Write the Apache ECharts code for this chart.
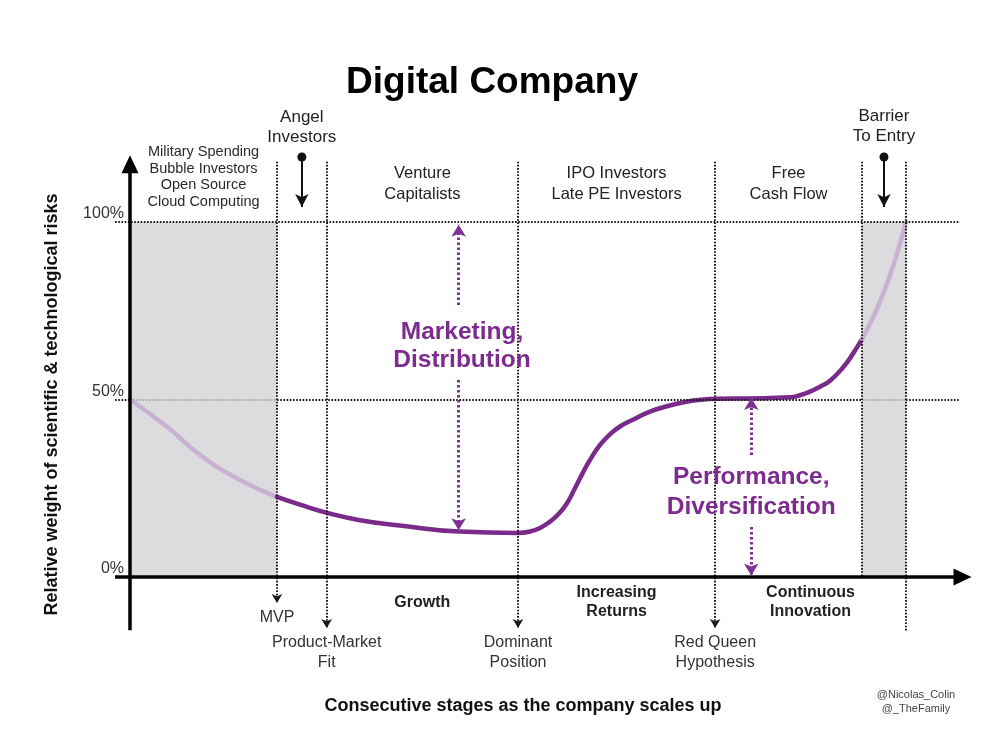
<!DOCTYPE html>
<html><head><meta charset="utf-8">
<script src="https://cdn.jsdelivr.net/npm/echarts@6/dist/echarts.min.js"></script>
<style>html,body{margin:0;padding:0;background:#fff}#c{width:1000px;height:750px}</style>
</head><body><div id="c"></div>
<script>
// ---- data ----
const riskX = [0, 4.46, 8.43, 13.25, 17.71, 20.48, 23.86, 27.71, 32.53, 39.64, 46.75, 48.19, 49.40, 50.60, 51.57, 52.65, 53.61, 54.46, 55.42, 56.63, 57.83, 59.04, 60.84, 62.65, 64.70, 66.87, 68.67, 70.72, 74.70, 79.52, 80.72, 81.93, 83.13, 84.34, 85.90, 86.99, 88.19, 89.40, 90.36, 91.57, 92.53, 93.49];
const riskY = [50, 42.3, 34.4, 27.3, 22.6, 20.4, 18, 16, 14.5, 12.8, 12.4, 12.8, 13.8, 15.6, 17.6, 20.8, 25, 28.9, 33, 37.2, 40.2, 42.4, 44.6, 46.6, 48.1, 49.3, 49.9, 50.2, 50.3, 50.6, 51.2, 52.2, 53.6, 55.3, 59, 62.5, 67, 72.5, 77.5, 85, 92, 100];
const stageBounds = [0, 17.71, 23.7, 46.75, 70.5, 88.19, 93.49];
const investorLabels = ['Military Spending\nBubble Investors\nOpen Source\nCloud Computing', 'Angel\nInvestors', 'Venture\nCapitalists', 'IPO Investors\nLate PE Investors', 'Free\nCash Flow', 'Barrier\nTo Entry'];
const milestoneLabels = ['MVP', 'Product-Market\nFit', 'Dominant\nPosition', 'Red Queen\nHypothesis'];
const phaseLabels = ['Growth', 'Increasing\nReturns', 'Continuous\nInnovation'];
const levelTicks = [0, 50, 100];
const forceLabels = ['Marketing,\nDistribution', 'Performance,\nDiversification'];

// ---- layout / style ----
const FONT = '"Liberation Sans", Arial, Helvetica, sans-serif';
const DARK = '#7a2a8b', LIGHT = '#c9b1d3', PURPLE_TXT = '#7d2b8f';
const earlyEnd = stageBounds[1], lateStart = stageBounds[5], lateEnd = stageBounds[6];
const mid = (i) => (stageBounds[i] + stageBounds[i + 1]) / 2;
const pts = riskX.map((x, i) => [x, riskY[i]]);
const seg1 = pts.filter(p => p[0] <= earlyEnd);
const seg2 = pts.filter(p => p[0] >= earlyEnd && p[0] <= lateStart);
const seg3 = pts.filter(p => p[0] >= lateStart);

function txt(x, y, text, extra) {
  return { value: [x, y], label: Object.assign({ show: true, formatter: text, position: 'inside', align: 'center', verticalAlign: 'middle', fontFamily: FONT, color: '#222', fontSize: 16, lineHeight: 20, opacity: 1 }, extra || {}) };
}
const texts = [];
const invY = [112.7, 126.8, 110.8, 110.8, 110.8, 127];
investorLabels.forEach((t, i) => {
  texts.push(txt(mid(i), invY[i], t, i === 0 ? { fontSize: 14.5, lineHeight: 16.7, color: '#2a2a2a' } : (i === 1 || i === 5 ? { fontSize: 17, lineHeight: 20 } : { fontSize: 16.5, lineHeight: 21 })));
});
milestoneLabels.forEach((t, i) => {
  texts.push(txt(stageBounds[i + 1], i === 0 ? -11.3 : -21.4, t, { fontSize: 16, lineHeight: 20, color: '#333' }));
});
const phaseX = [mid(2), mid(3), (stageBounds[4] + stageBounds[6]) / 2];
phaseLabels.forEach((t, i) => {
  texts.push(txt(phaseX[i], -7.2, t, { fontSize: 16, lineHeight: 19, fontWeight: 'bold', color: '#222' }));
});
const mkX = 40, pfX = 74.85;
texts.push(txt(mkX, 65, forceLabels[0], { fontSize: 24.5, lineHeight: 28, fontWeight: 'bold', color: PURPLE_TXT }));
texts.push(txt(pfX, 24, forceLabels[1], { fontSize: 24.5, lineHeight: 30, fontWeight: 'bold', color: PURPLE_TXT }));

const dotBlack = { color: '#1a1a1a', width: 2, type: [1.6, 1.6] };
const dotGray = { color: '#a9a9ad', width: 2, type: [1.6, 1.6] };
const gridLines = [];
const hLine = (y, x1, x2, st) => gridLines.push([{ coord: [x1, y], symbol: 'none', lineStyle: st }, { coord: [x2, y], symbol: 'none' }]);
hLine(100, -1.8, 100, dotBlack);
hLine(50, -1.8, 0, dotBlack);
hLine(50, 0, earlyEnd, dotGray);
hLine(50, earlyEnd, lateStart, dotBlack);
hLine(50, lateStart, lateEnd, dotGray);
hLine(50, lateEnd, 100, dotBlack);
const vBottoms = [-7.3, -14.4, -14.4, -14.4, 0, -15.5];
const vArrow = [true, true, true, true, false, false];
stageBounds.slice(1).forEach((x, i) => {
  gridLines.push([{ coord: [x, 117], symbol: 'none', lineStyle: dotBlack },
    { coord: [x, vBottoms[i]], symbol: vArrow[i] ? 'arrow' : 'none', symbolSize: [8, 9] }]);
});

const purpleDot = { color: '#7f3093', width: 3, type: [2.5, 2.5] };
const purpleLines = [
  [{ coord: [mkX - 0.4, 76.6], symbol: 'none', lineStyle: purpleDot }, { coord: [mkX - 0.4, 99.2], symbol: 'arrow', symbolSize: [11, 12] }],
  [{ coord: [mkX - 0.4, 55.5], symbol: 'none', lineStyle: purpleDot }, { coord: [mkX - 0.4, 13.2], symbol: 'arrow', symbolSize: [11, 12] }],
  [{ coord: [pfX, 34.4], symbol: 'none', lineStyle: purpleDot }, { coord: [pfX, 50.4], symbol: 'arrow', symbolSize: [11, 12] }],
  [{ coord: [pfX, 14.1], symbol: 'none', lineStyle: purpleDot }, { coord: [pfX, 0.4], symbol: 'arrow', symbolSize: [11, 12] }]
];
const invArrows = [mid(1), mid(5)].map(x => [
  { coord: [x, 118.3], symbol: 'circle', symbolSize: 9, lineStyle: { color: '#111', width: 2, type: 'solid' } },
  { coord: [x, 104.2], symbol: 'arrow', symbolSize: [10, 13] }
]);
const axes = [
  [{ coord: [-1.8, 0], symbol: 'none' }, { coord: [100.3, 0], symbol: 'triangle', symbolSize: [17, 18] }],
  [{ coord: [0, -15], symbol: 'none' }, { coord: [0, 116.3], symbol: 'triangle', symbolSize: [17, 18] }]
];

function markSeries(lines, z, baseStyle) {
  return { type: 'line', data: [], z: z, silent: true, clip: false,
    markLine: { silent: true, animation: false, symbol: 'none', label: { show: false }, lineStyle: baseStyle, emphasis: { disabled: true }, data: lines } };
}
function curve(data, color) {
  return { type: 'line', data: data, z: 3, smooth: 0.5, showSymbol: false, silent: true, lineStyle: { color: color, width: 4.5, cap: 'round', join: 'round' } };
}

const option = {
  animation: false,
  backgroundColor: '#fff',
  textStyle: { fontFamily: FONT },
  title: [
    { text: 'Digital Company', left: 487, top: 59, textAlign: 'center', textStyle: { fontFamily: FONT, fontSize: 37, fontWeight: 'bold', color: '#000' } },
    { text: 'Consecutive stages as the company scales up', left: 518, top: 692, textAlign: 'center', textStyle: { fontFamily: FONT, fontSize: 18, fontWeight: 'bold', color: '#111' } },
    { text: '@Nicolas_Colin\n@_TheFamily', left: 911, top: 683, textAlign: 'center', textStyle: { fontFamily: FONT, fontSize: 11, fontWeight: 'normal', color: '#444', lineHeight: 14, align: 'center' } }
  ],
  grid: { left: 88.5, top: 115.5, width: 888.1, height: 568 },
  xAxis: { type: 'value', min: -5, max: 102, show: false },
  yAxis: {
    type: 'value', min: -30, max: 130, interval: 10, offset: -41.5,
    name: 'Relative weight of scientific & technological risks', nameLocation: 'middle', nameGap: 69, nameRotate: 90,
    nameTextStyle: { fontFamily: FONT, fontSize: 18, fontWeight: 'bold', color: '#111', padding: [0, 10, 0, 0] },
    axisLine: { show: false }, axisTick: { show: false }, splitLine: { show: false },
    axisLabel: { margin: 6, align: 'right', verticalAlign: 'bottom', fontFamily: FONT, fontSize: 16, color: '#333',
      formatter: v => levelTicks.includes(v) ? v + '%' : '' }
  },
  series: [
    { type: 'line', data: [], z: 1, silent: true, markArea: { silent: true, itemStyle: { color: '#dcdcde' },
      data: [[{ coord: [0, 0] }, { coord: [earlyEnd, 100] }], [{ coord: [lateStart, 0] }, { coord: [lateEnd, 100] }]] } },
    markSeries(gridLines, 2, dotBlack),
    curve(seg1, LIGHT), curve(seg2, DARK), curve(seg3, LIGHT),
    markSeries(purpleLines, 4, purpleDot),
    markSeries(invArrows, 4, { color: '#111', width: 2, type: 'solid' }),
    markSeries(axes, 5, { color: '#000', width: 3.5, type: 'solid' }),
    { type: 'scatter', z: 6, silent: true, symbolSize: 1, itemStyle: { color: 'rgba(0,0,0,0)', opacity: 1 }, data: texts }
  ]
};
const chart = echarts.init(document.getElementById('c'), null, { renderer: 'canvas' });
chart.setOption(option);
</script></body></html>
